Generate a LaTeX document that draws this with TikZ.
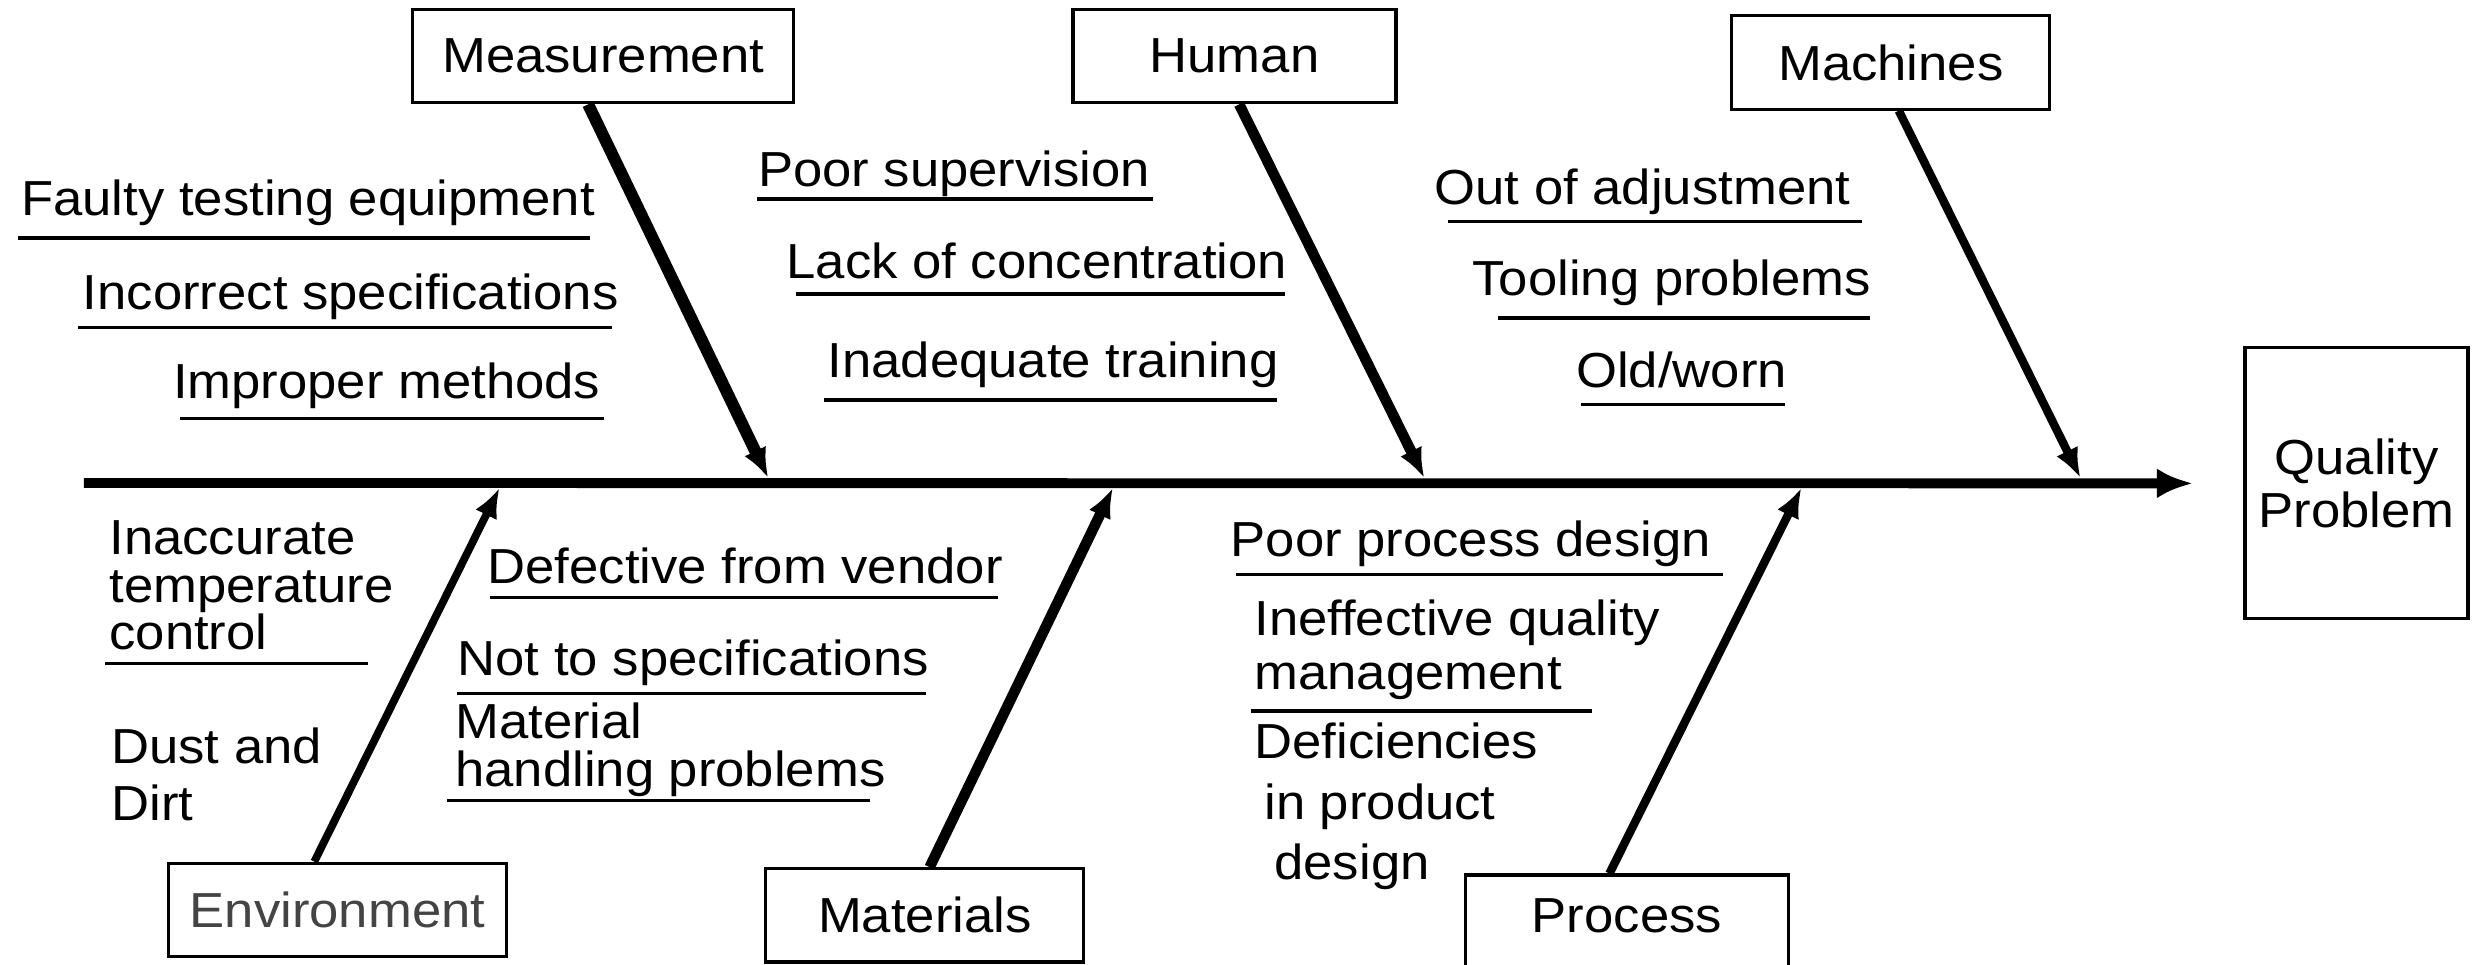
\documentclass[tikz,border=0pt]{standalone}
\usepackage{fontspec}
\setmainfont{Liberation Sans}[FakeStretch=1.07]
\usetikzlibrary{arrows.meta,calc,positioning}
\definecolor{envgray}{HTML}{444444}
\tikzset{
    catbox/.style={
        rectangle,
        draw,
        line width=0.9pt,
        inner sep=0pt,
        minimum height=0.933cm
    },
    cause/.style={inner sep=0pt, anchor=base west, align=left},
    uline/.style={line width=1pt},
    bone/.style={-{Latex[length=3mm,width=2.4mm]}},
    spine/.style={line width=2.8pt, -{Latex[length=3.6mm,width=3mm]}}
}

\begin{document}
\begin{tikzpicture}[x=0.01581cm, y=-0.01581cm, font=\fontsize{14}{15.2}\selectfont]
        \useasboundingbox (0,0) rectangle (1568,610);

        % Riquadri delle categorie
        \node[catbox, minimum width=3.81cm] (meas) at (381.5,35.5) {Measurement};
        \node[catbox, minimum width=3.23cm] (hum) at (780.8,35.5) {Human};
        \node[catbox, minimum width=3.18cm] (mac) at (1196,39.5) {Machines};
        \node[catbox, minimum width=3.38cm, text=envgray] (env) at (213.5,575.5) {Environment};
        \node[catbox, minimum width=3.18cm] (mat) at (585,579) {Materials};
        \node[catbox, minimum width=3.23cm, minimum height=0.98cm, text depth=0.18cm] (proc) at (1029,584.5) {Process};
        \node[catbox, minimum width=2.23cm, minimum height=2.71cm, align=center] (qp) at (1490.5,305.75) {Quality\\Problem};

        % Spina principale
        \coordinate (tail) at (53,305.5);
        \draw[spine] (tail) -- ($(qp.west)+(-32,0)$);

        % Punte delle lische sulla spina
        \coordinate (mhead) at (486,302.5);
        \coordinate (hhead) at (901,302.5);
        \coordinate (chead) at (1316,302.5);
        \coordinate (ehead) at (316,308.5);
        \coordinate (thead) at (704,308.5);
        \coordinate (phead) at (1139.5,308.5);

        % Lische
        \draw[bone, line width=3.4pt] ($(meas.south)+(-9.5,0)$) -- (mhead);
        \draw[bone, line width=3pt] ($(hum.south)+(3,0)$) -- (hhead);
        \draw[bone, line width=2.4pt] ($(mac.south)+(5,0)$) -- (chead);
        \draw[bone, line width=2.2pt] ($(env.north)+(-14.7,0)$) -- (ehead);
        \draw[bone, line width=3pt] ($(mat.north)+(3,0)$) -- (thead);
        \draw[bone, line width=2.4pt] ($(proc.north)+(-11,0)$) -- (phead);

        % Cause: Measurement
        \node[cause] (fte) at (13,136) {Faulty testing equipment};
        \node[cause] (ics) at (52,196) {Incorrect specifications};
        \node[cause] (ipm) at (109,252) {Improper methods};

        % Cause: Human
        \node[cause] (psv) at (479,118) {Poor supervision};
        \node[cause] (loc) at (497,176) {Lack of concentration};
        \node[cause] (itr) at (523,239) {Inadequate training};

        % Cause: Machines
        \node[cause] (ooa) at (907,129.6) {Out of adjustment};
        \node[cause] (tlp) at (931,187) {Tooling problems};
        \node[cause] (owr) at (996.5,245) {Old/worn};

        % Cause: Environment (base = ultima riga)
        \node[cause, font=\fontsize{14}{13.5}\selectfont] (itc) at (68.8,411) {Inaccurate\\temperature\\control};
        \node[cause, font=\fontsize{14}{16.2}\selectfont] (dad) at (70,518.7) {Dust and\\Dirt};

        % Cause: Materials
        \node[cause] (dfv) at (308,369) {Defective from vendor};
        \node[cause] (nts) at (289,427) {Not to specifications};
        \node[cause, font=\fontsize{14}{13.7}\selectfont] (mhp) at (287.5,497.6) {Material\\handling problems};

        % Cause: Process
        \node[cause] (ppd) at (778,351.7) {Poor process design};
        \node[cause, font=\fontsize{14}{15.6}\selectfont] (iqm) at (793,436.4) {Ineffective quality\\management};
        \node[cause, font=\fontsize{14}{17.3}\selectfont] (dpd) at (793,556.6) {Deficiencies\\\hspace*{0.1cm}in product\\\hspace*{0.2cm}design};

        % Sottolineature
        \foreach \xa/\xb/\yy in {11.6/373/150.7, 49.6/387/207.3, 114/382/264.6,
                                 479/729/126, 503.6/813/186, 521/808/253,
                                 916/1178/140, 947.6/1183/201, 1000/1129/256,
                                 66.6/233/419.6, 309.7/631/377.8, 289/586/438.5, 283/550/506.4,
                                 782/1089.6/363.3, 791/1007/449.7}
            \draw[uline] (\xa,\yy) -- (\xb,\yy);

    \end{tikzpicture}
\end{document}
